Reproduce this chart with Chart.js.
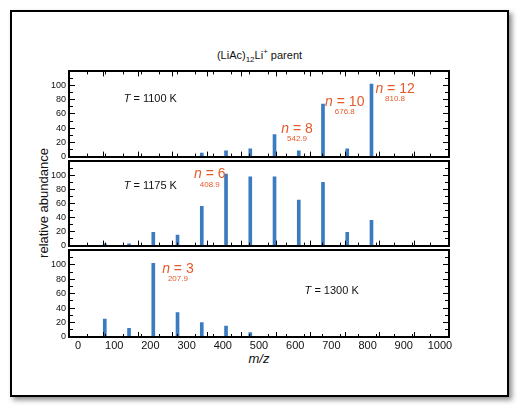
<!DOCTYPE html>
<html><head><meta charset="utf-8">
<script src="https://cdn.jsdelivr.net/npm/chart.js@4"></script>
<style>
html,body{margin:0;padding:0;background:#fff;width:519px;height:407px;overflow:hidden;font-family:"Liberation Sans",Arial,sans-serif;}
#frame{position:absolute;left:10px;top:10px;width:495px;height:383px;border:2px solid #000;box-shadow:3px 3px 5px rgba(0,0,0,0.45);background:#fff;}
canvas{position:absolute;left:0;}
.txt{position:absolute;white-space:nowrap;color:#111;}
#title{left:0;width:519px;text-align:center;top:47px;font-size:11px;}
#title sub,#title sup{font-size:8px;}
#ytitle{left:43px;top:203px;font-size:13px;transform:translate(-50%,-50%) rotate(-90deg);}
#xtitle{left:259px;top:358px;font-size:13px;font-style:italic;transform:translate(-50%,-50%);}
.temp{font-size:11px;transform:translate(0,-50%);line-height:1;}
.nlab{font-size:14px;color:#e55a2b;transform:translate(-50%,-50%);line-height:1;}
.mz{font-size:8px;color:#e55a2b;transform:translate(-50%,-50%);line-height:1;}
</style></head>
<body>
<div id="frame"></div>
<div class="txt" id="title">(LiAc)<sub>12</sub>Li<sup>+</sup> parent</div>
<div class="txt" id="ytitle">relative abundance</div>
<div class="txt" id="xtitle">m/z</div>
<canvas id="c0" width="519" height="110" style="top:59px"></canvas>
<canvas id="c1" width="519" height="109" style="top:149px"></canvas>
<canvas id="c2" width="519" height="130" style="top:238px"></canvas>
<script>
// cluster size n and peak position m/z
const clusterN = [1,2,3,4,5,6,7,8,9,10,11,12];
const mzPeaks = [73.9,140.9,207.9,274.9,341.9,408.9,475.9,542.9,609.9,676.8,743.8,810.8];
// relative abundance per temperature
const abund1100 = [0,0,0,0,5,8,11,31,8,74,11,102];
const abund1175 = [2.5,2.5,19,15,56,102,98,98,65,90,19,36];
const abund1300 = [25,12,102,34,20,15,6,0,0,0,0,0];
const temperatures = ['1100 K','1175 K','1300 K'];
const yTickValues = [0,20,40,60,80,100];
const xTickValues = [0,100,200,300,400,500,600,700,800,900,1000];
// labelled peaks per panel (index into clusterN)
const labelled = [[7,9,11],[5],[2]];

const BAR = '#3b7bbf', FONT = '"Liberation Sans", Arial, sans-serif';

const panels = [
  {id:'c0', data:abund1100, padBottom:10, showX:false, topTicks:true,
   temp:{x:126,y:83}, nLab:[{x:605,y:40,y2:25},{x:737,y:79,y2:63},{x:876,y:97,y2:81}]},
  {id:'c1', data:abund1175, padBottom:10, showX:false, topTicks:false,
   temp:{x:126,y:87}, nLab:[{x:364,y:103,y2:87}]},
  {id:'c2', data:abund1300, padBottom:11, showX:true, topTicks:false,
   temp:{x:626,y:65}, nLab:[{x:276,y:95,y2:80}]}
];

function tickGrid(len, show) {
  return {display: show !== false, drawOnChartArea:false, drawTicks:true, tickLength:-len,
          color:'#000', lineWidth:1, z:1};
}
const BORDER = {display:true, color:'#000', width:2, z:1};
const NOBORDER = {display:false};

function buildScales(p) {
  const xr = {type:'linear', min:0, max:1000};
  const yr = {type:'linear', min:0, max:120};
  return {
    x: Object.assign({}, xr, {position:'bottom', weight:0, border:BORDER, grid:tickGrid(3),
        ticks:{display:p.showX, stepSize:50, autoSkip:false, maxRotation:0, padding:5,
               color:'#111', font:{size:11, family:FONT},
               callback:v => xTickValues.includes(v) ? String(v) : ''},
        afterFit:s => { s.height = p.showX ? 20 : 0; }}),
    xMaj: Object.assign({}, xr, {position:'bottom', weight:-1, border:NOBORDER, grid:tickGrid(5),
        ticks:{display:false, stepSize:100}, afterFit:s => { s.height = 0; }}),
    xTop: Object.assign({}, xr, {position:'top', weight:0, border:BORDER, grid:tickGrid(3, p.topTicks),
        ticks:{display:false, stepSize:50}, afterFit:s => { s.height = 0; }}),
    xTopMaj: Object.assign({}, xr, {position:'top', weight:-1, border:NOBORDER, grid:tickGrid(5, p.topTicks),
        ticks:{display:false, stepSize:100}, afterFit:s => { s.height = 0; }}),
    y: Object.assign({}, yr, {position:'left', weight:0, border:BORDER, grid:tickGrid(4),
        ticks:{stepSize:10, autoSkip:false, padding:7, color:'#111', font:{size:9, family:FONT},
               callback:v => yTickValues.includes(v) ? String(v) : ''},
        afterFit:s => { s.width = 69; }}),
    yMaj: Object.assign({}, yr, {position:'left', weight:-1, border:NOBORDER, grid:tickGrid(6),
        ticks:{display:false, stepSize:20}, afterFit:s => { s.width = 0; }}),
    yR: Object.assign({}, yr, {position:'right', weight:0, border:BORDER, grid:tickGrid(4),
        ticks:{display:false, stepSize:10}, afterFit:s => { s.width = 0; }}),
    yRMaj: Object.assign({}, yr, {position:'right', weight:-1, border:NOBORDER, grid:tickGrid(6),
        ticks:{display:false, stepSize:20}, afterFit:s => { s.width = 0; }})
  };
}

function addText(cls, html, left, top) {
  const d = document.createElement('div');
  d.className = 'txt ' + cls;
  d.innerHTML = html;
  d.style.left = left + 'px';
  d.style.top = top + 'px';
  document.body.appendChild(d);
}

panels.forEach((p, k) => {
  const canvas = document.getElementById(p.id);
  const chart = new Chart(canvas, {
    type:'bar',
    data:{datasets:[{
      data: mzPeaks.map((m, i) => ({x:m, y:p.data[i]})),
      xAxisID:'x', yAxisID:'y',
      backgroundColor: BAR, borderWidth: 0, barThickness: 3, grouped:false
    }]},
    options:{
      responsive:false, animation:false,
      layout:{padding:{left:0, right:70, top:10, bottom:p.padBottom}},
      plugins:{legend:{display:false}, tooltip:{enabled:false}},
      scales: buildScales(p)
    }
  });
  const xs = chart.scales.x, ys = chart.scales.y;
  const ox = canvas.offsetLeft, oy = canvas.offsetTop;
  addText('temp', '<i>T</i> = ' + temperatures[k],
    ox + xs.getPixelForValue(p.temp.x), oy + ys.getPixelForValue(p.temp.y));
  p.nLab.forEach((lab, i) => {
    const idx = labelled[k][i];
    const cx = ox + xs.getPixelForValue(lab.x);
    addText('nlab', '<i>n</i> = ' + clusterN[idx], cx, oy + ys.getPixelForValue(lab.y));
    addText('mz', mzPeaks[idx].toFixed(1), cx, oy + ys.getPixelForValue(lab.y2));
  });
});
</script>
</body></html>
